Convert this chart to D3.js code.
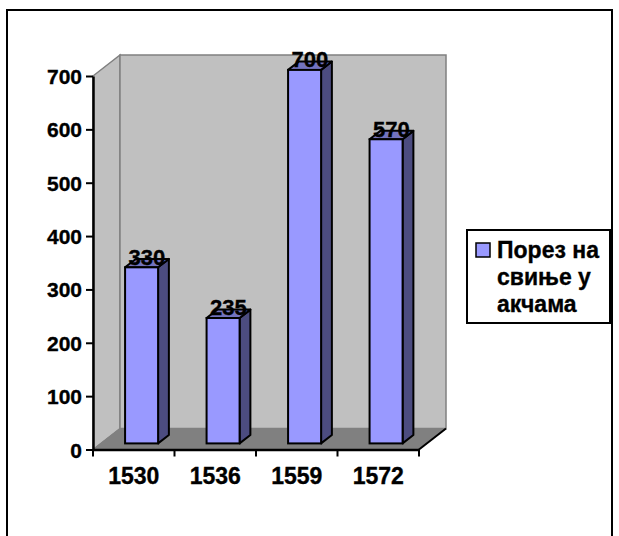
<!DOCTYPE html>
<html>
<head>
<meta charset="utf-8">
<script src="https://cdn.jsdelivr.net/npm/d3@7/dist/d3.min.js"></script>
<style>
  html, body { margin: 0; padding: 0; background: #fff; }
  svg { display: block; }
  text { font-family: "Liberation Sans", Arial, sans-serif; font-weight: bold; fill: #000; stroke: #000; stroke-width: 0.35px; }
</style>
</head>
<body>
<svg id="chart" width="619" height="536"></svg>
<script>
const categories = ["1530", "1536", "1559", "1572"];
const values = [330, 235, 700, 570];
const yTicks = [0, 100, 200, 300, 400, 500, 600, 700];
const seriesName = ["Порез на", "свиње у", "акчама"];

const svg = d3.select("#chart");

// geometry of the 3D plot
const x0 = 93, x1 = 419, yBottom = 449.5, yTop = 76;
const depthX = 27, depthY = -21;
const barT0 = 0.29, barT1 = 0.69;   // bar depth position (fraction of floor depth)
const barFrac = 0.405;               // bar width / category width

const x = d3.scaleBand().domain(categories).range([x0, x1]).padding(0);
const y = d3.scaleLinear().domain([0, 700]).range([yBottom, yTop]);

const off = t => [depthX * t, depthY * t];

// outer chart border
svg.append("rect").attr("x", 7).attr("y", 10).attr("width", 605).attr("height", 540)
  .attr("fill", "none").attr("stroke", "#000").attr("stroke-width", 2);

const g = svg.append("g");

const [dx, dy] = off(1);
// left side wall
g.append("path")
  .attr("d", `M${x0},${y(700)} L${x0+dx},${y(700)+dy} L${x0+dx},${y(0)+dy} L${x0},${y(0)} Z`)
  .attr("fill", "#c0c0c0").attr("stroke", "#808080").attr("stroke-width", 1.5);
// back wall
g.append("path")
  .attr("d", `M${x0+dx},${y(700)+dy} L${x1+dx},${y(700)+dy} L${x1+dx},${y(0)+dy} L${x0+dx},${y(0)+dy} Z`)
  .attr("fill", "#c0c0c0").attr("stroke", "#808080").attr("stroke-width", 1.5);
// floor
g.append("path")
  .attr("d", `M${x0},${y(0)} L${x0+dx},${y(0)+dy} L${x1+dx},${y(0)+dy} L${x1},${y(0)} Z`)
  .attr("fill", "#808080").attr("stroke", "#808080").attr("stroke-width", 1);
// floor right front edge (black)
g.append("line")
  .attr("x1", x1).attr("y1", y(0)).attr("x2", x1+dx).attr("y2", y(0)+dy)
  .attr("stroke", "#000").attr("stroke-width", 2);

// bars
const [fx, fy] = off(barT0);
const [bx, by] = off(barT1);
const bdx = bx - fx, bdy = by - fy;
const bw = x.bandwidth() * barFrac;

const bars = g.selectAll(".bar").data(values).join("g").attr("class", "bar");
bars.each(function(v, i) {
  const cx = x(categories[i]) + x.bandwidth() / 2 + fx;
  const L = cx - bw / 2, R = cx + bw / 2;
  const T = y(v) + fy, B = y(0) + fy;
  const sel = d3.select(this);
  sel.append("path")
    .attr("d", `M${R},${T} L${R+bdx},${T+bdy} L${R+bdx},${B+bdy} L${R},${B} Z`)
    .attr("fill", "#4c4c80").attr("stroke", "#000").attr("stroke-width", 2).attr("stroke-linejoin", "round");
  sel.append("path")
    .attr("d", `M${L},${T} L${L+bdx},${T+bdy} L${R+bdx},${T+bdy} L${R},${T} Z`)
    .attr("fill", "#7373bf").attr("stroke", "#000").attr("stroke-width", 2).attr("stroke-linejoin", "round");
  sel.append("rect")
    .attr("x", L).attr("y", T).attr("width", bw).attr("height", B - T)
    .attr("fill", "#9999ff").attr("stroke", "#000").attr("stroke-width", 2);
  sel.append("text")
    .attr("x", cx + bdx / 2).attr("y", T + bdy / 2 + 1.5)
    .attr("text-anchor", "middle").attr("font-size", 22)
    .text(v);
});

// y axis
const yAxis = d3.axisLeft(y).tickValues(yTicks).tickSize(7).tickPadding(4).tickSizeOuter(0);
const ya = svg.append("g").attr("transform", `translate(${x0},0)`).call(yAxis);
ya.select(".domain").attr("stroke", "#000").attr("stroke-width", 2.5);
ya.selectAll(".tick line").attr("stroke", "#000").attr("stroke-width", 2);
ya.selectAll(".tick text").attr("font-size", 21).attr("font-family", "Liberation Sans, Arial, sans-serif")
  .attr("font-weight", "bold").attr("fill", "#000").attr("dy", "0.36em");

// x axis
const xAxis = d3.axisBottom(x).tickSize(0).tickPadding(18);
const xa = svg.append("g").attr("transform", `translate(0,${y(0)})`).call(xAxis);
xa.select(".domain").attr("stroke", "#000").attr("stroke-width", 2.5);
xa.selectAll(".tick text").attr("font-size", 23).attr("font-family", "Liberation Sans, Arial, sans-serif")
  .attr("font-weight", "bold").attr("fill", "#000");
const bounds = categories.map(c => x(c)).concat([x1]);
xa.selectAll(".bound").data(bounds).join("line").attr("class", "bound")
  .attr("x1", d => d).attr("x2", d => d).attr("y1", 0).attr("y2", 7)
  .attr("stroke", "#000").attr("stroke-width", 2);

// legend
const lg = svg.append("g");
lg.append("rect").attr("x", 467).attr("y", 230).attr("width", 143).attr("height", 93)
  .attr("fill", "#fff").attr("stroke", "#000").attr("stroke-width", 2);
lg.append("rect").attr("x", 476).attr("y", 243).attr("width", 14).attr("height", 14)
  .attr("fill", "#9999ff").attr("stroke", "#000").attr("stroke-width", 1.5);
lg.selectAll(".lt").data(seriesName).join("text").attr("class", "lt")
  .attr("x", 497).attr("y", (d, i) => 258 + i * 27)
  .attr("font-size", 23).text(d => d);
</script>
</body>
</html>
